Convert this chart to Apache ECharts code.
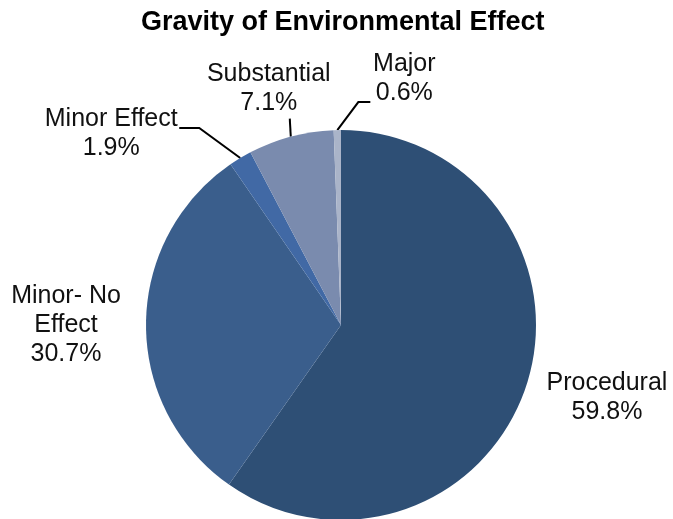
<!DOCTYPE html>
<html><head><meta charset="utf-8">
<script src="https://cdn.jsdelivr.net/npm/echarts@6/dist/echarts.min.js"></script>
<style>html,body{margin:0;padding:0;background:#fff}#c{width:673px;height:519px}</style>
</head><body><div id="c"></div>
<script>
const categories = ['Procedural', 'Minor- No Effect', 'Minor Effect', 'Substantial', 'Major'];
const labelTexts = ['Procedural', 'Minor- No\nEffect', 'Minor Effect', 'Substantial', 'Major'];
const values = [59.8, 30.7, 1.9, 7.1, 0.6];
const colors = ['#2E4F75', '#3A5E8C', '#4169A5', '#7A8BAE', '#AAB4C9'];
const showLines = [false, false, true, true, true];

// label placement: offset of label centre from the slice's outer edge point,
// plus leader-line elbow / end offsets (relative to the edge point)
const labelOffsets = [[80, 14], [-80, 1], [-129, -24], [-22, -48], [67, -51]];
const lineElbows = [null, null, [[-41, -30], [-61, -30]], [[-1, -18], [-1, -18]], [[21, -28], [33, -28]]];

const CX = 341, CY = 325, R = 195;
function edgePoint(i) {
  let before = 0;
  for (let k = 0; k < i; k++) before += values[k];
  const total = values.reduce((a, b) => a + b, 0);
  const a = (before + values[i] / 2) / total * 2 * Math.PI;
  return [CX + R * Math.sin(a), CY - R * Math.cos(a)];
}

const chart = echarts.init(document.getElementById('c'));
chart.setOption({
  animation: false,
  title: {
    text: 'Gravity of Environmental Effect',
    left: 136, top: 4,
    textStyle: {fontFamily: 'Liberation Sans', fontSize: 27, fontWeight: 'bold', color: '#000'}
  },
  series: [{
    type: 'pie',
    center: [CX, CY],
    radius: R,
    startAngle: 90,
    clockwise: true,
    label: {
      show: true, position: 'outside', overflow: 'none', width: 300,
      fontFamily: 'Liberation Sans', fontSize: 25, color: '#111', lineHeight: 29, align: 'center',
      formatter: p => labelTexts[p.dataIndex] + '\n' + values[p.dataIndex].toFixed(1) + '%'
    },
    labelLine: {show: true, length: 18, length2: 12, lineStyle: {color: '#000', width: 2}},
    labelLayout: function (params) {
      const i = params.dataIndex;
      const e = edgePoint(i);
      const o = labelOffsets[i];
      const res = {x: e[0] + o[0], y: e[1] + o[1], align: 'center', verticalAlign: 'middle'};
      if (lineElbows[i]) {
        res.labelLinePoints = [e, [e[0] + lineElbows[i][0][0], e[1] + lineElbows[i][0][1]], [e[0] + lineElbows[i][1][0], e[1] + lineElbows[i][1][1]]];
      }
      return res;
    },
    data: categories.map((n, i) => ({
      name: n, value: values[i],
      itemStyle: {color: colors[i]},
      labelLine: {show: showLines[i]}
    }))
  }]
});
</script></body></html>
